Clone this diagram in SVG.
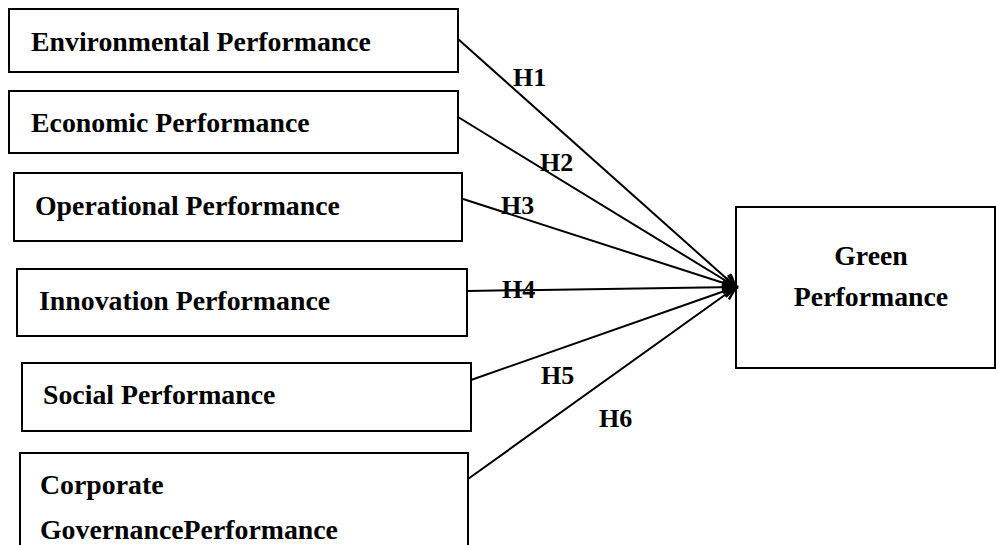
<svg xmlns="http://www.w3.org/2000/svg" width="996" height="545" viewBox="0 0 996 545">
<style>
.box{fill:#fff;stroke:#000;stroke-width:2}
.t{font-family:"Liberation Serif","Times New Roman",serif;font-weight:bold;font-size:27.8px;fill:#000}
.h{font-family:"Liberation Serif","Times New Roman",serif;font-weight:bold;font-size:26px;fill:#000}
.c{stroke:#000;stroke-width:2;fill:none;marker-end:url(#arr)}
</style>
<defs>
<marker id="arr" markerUnits="userSpaceOnUse" markerWidth="20" markerHeight="20" refX="14" refY="7" orient="auto">
<polyline points="1,1 14,7 1,13" fill="none" stroke="#000" stroke-width="2.5"/>
</marker>
</defs>
<rect width="996" height="545" fill="#fff"/>
<g id="n1"><rect class="box" x="9" y="9" width="449" height="63"/><text class="t" x="31" y="51">Environmental Performance</text></g>
<g id="n2"><rect class="box" x="9" y="91" width="449" height="62"/><text class="t" x="31" y="132">Economic Performance</text></g>
<g id="n3"><rect class="box" x="14" y="173" width="448" height="68"/><text class="t" x="35" y="215">Operational Performance</text></g>
<g id="n4"><rect class="box" x="17" y="269" width="450" height="67"/><text class="t" x="39" y="310">Innovation Performance</text></g>
<g id="n5"><rect class="box" x="22" y="363" width="449" height="68"/><text class="t" x="43" y="404">Social Performance</text></g>
<g id="n6"><rect class="box" x="20" y="453" width="448" height="110"/><text class="t" x="40" y="494">Corporate</text><text class="t" x="40" y="539">GovernancePerformance</text></g>
<g id="green"><rect class="box" x="736" y="207" width="259" height="161"/><text class="t" x="871" y="265" text-anchor="middle">Green</text><text class="t" x="871" y="306" text-anchor="middle">Performance</text></g>
<g id="connectors">
<line class="c" x1="458" y1="39" x2="736" y2="287"/>
<line class="c" x1="458" y1="117" x2="736" y2="287"/>
<line class="c" x1="463" y1="199" x2="736" y2="287"/>
<line class="c" x1="467" y1="291" x2="736" y2="287"/>
<line class="c" x1="471" y1="380" x2="736" y2="287"/>
<line class="c" x1="468" y1="479" x2="736" y2="287"/>
<text class="h" x="513" y="86">H1</text>
<text class="h" x="540" y="171">H2</text>
<text class="h" x="501" y="214">H3</text>
<text class="h" x="502" y="298">H4</text>
<text class="h" x="541" y="384">H5</text>
<text class="h" x="599" y="427">H6</text>
</g>
</svg>
